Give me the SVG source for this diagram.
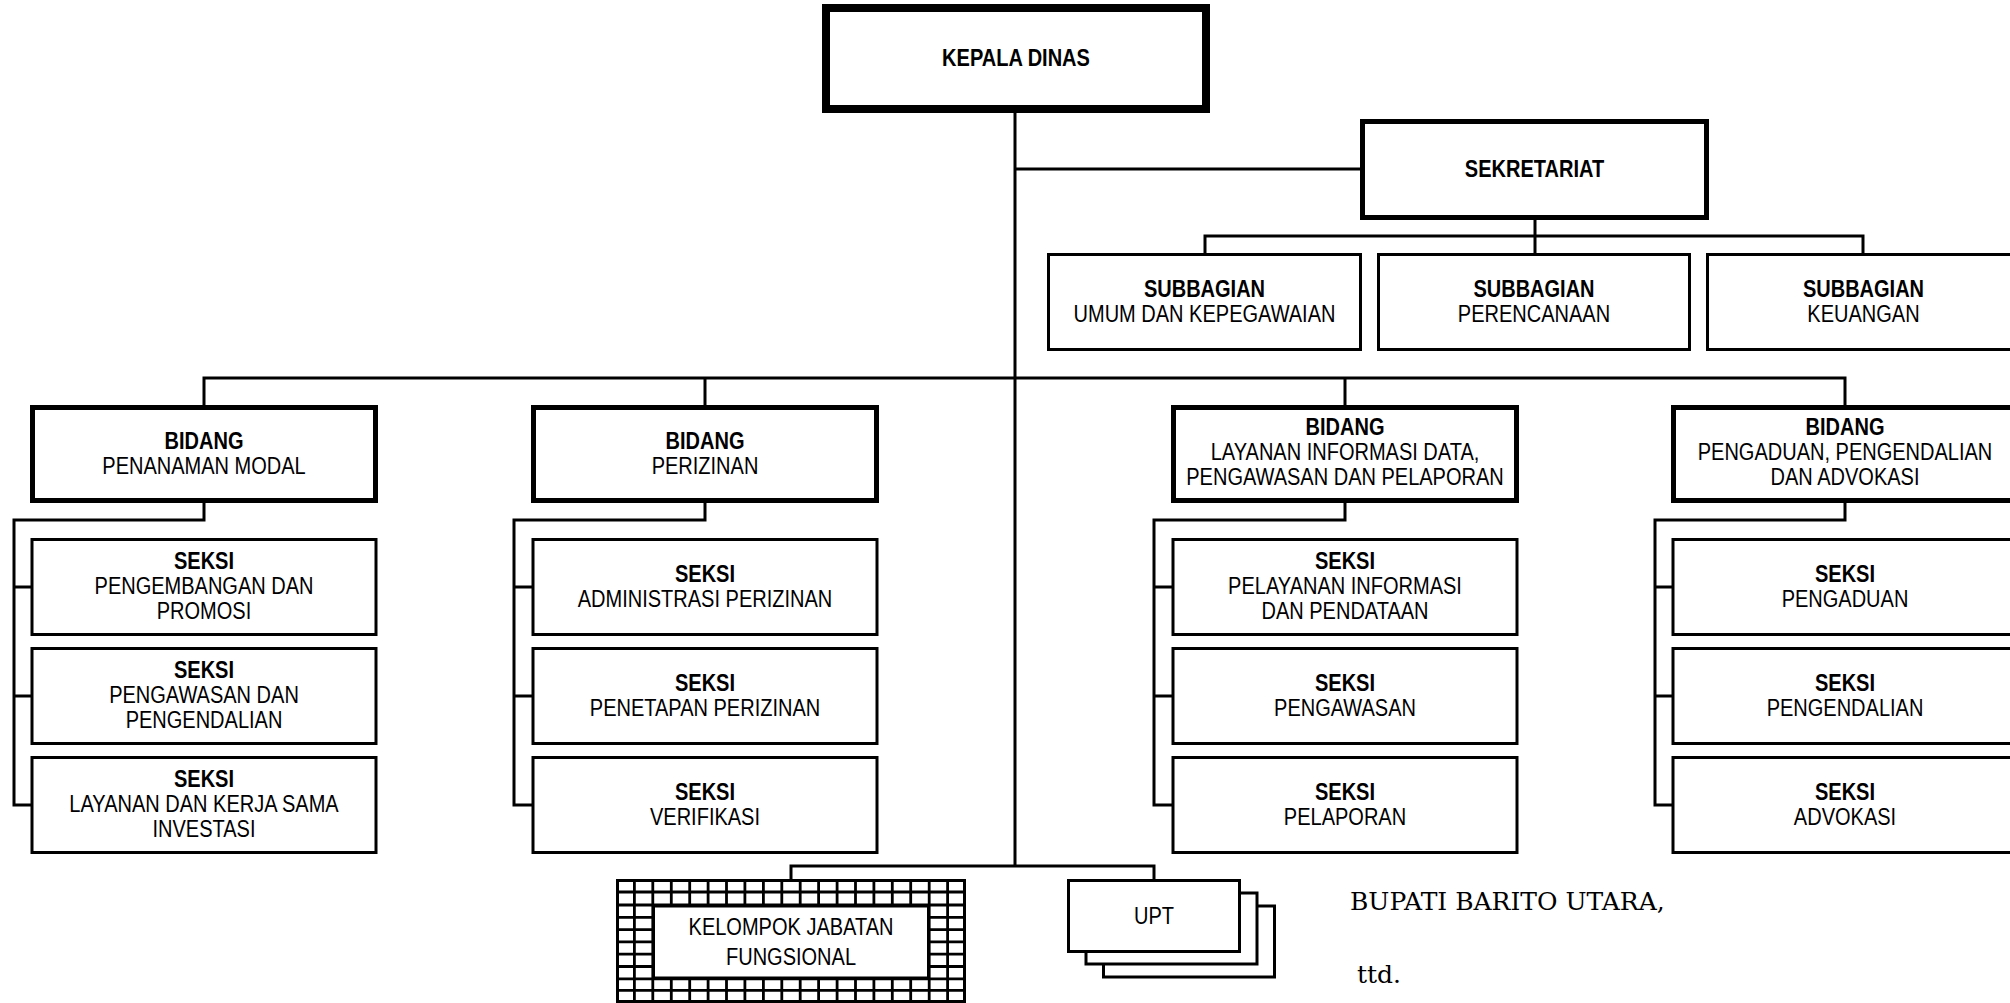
<svg xmlns="http://www.w3.org/2000/svg" width="2010" height="1003" viewBox="0 0 2010 1003">
<style>
.t{font-family:"Liberation Sans",Arial,sans-serif;font-size:23px;text-anchor:middle;fill:#000}
.b{font-weight:bold}
.box{fill:#fff;stroke:#000}
.k{stroke-width:8}
.h{stroke-width:5}
.s{stroke-width:3}
.c{fill:none;stroke:#000;stroke-width:3}
.g{fill:none;stroke:#000;stroke-width:2.8}
.sig{font-family:"DejaVu Serif","Liberation Serif",serif;font-size:25px;fill:#000}
</style>
<rect width="2010" height="1003" fill="#fff"/>
<g id="connectors">
<path class="c" d="M1015 113V866M1015 169H1360"/>
<path class="c" d="M1535 220V253M1205 253V236H1863V253"/>
<path class="c" d="M204 405V378H1845V405M705 378V405M1345 378V405"/>
<path class="c" d="M204 503V520H14V806.5M14 587H31M14 696H31M14 805H31"/>
<path class="c" d="M705 503V520H514V806.5M514 587H532M514 696H532M514 805H532"/>
<path class="c" d="M1345 503V520H1154V806.5M1154 587H1172M1154 696H1172M1154 805H1172"/>
<path class="c" d="M1845 503V520H1655V806.5M1655 587H1672M1655 696H1672M1655 805H1672"/>
<path class="c" d="M791 880V866H1154V880"/>
</g>
<g id="kepala-dinas">
<rect class="box k" x="826" y="8" width="380" height="101"/>
<text class="t b" transform="translate(1016 0) scale(.87 1)" x="0" y="66.5">KEPALA DINAS</text>
</g>
<g id="sekretariat">
<rect class="box h" x="1362.5" y="121.5" width="344" height="96"/>
<text class="t b" transform="translate(1534.5 0) scale(.87 1)" x="0" y="177">SEKRETARIAT</text>
</g>
<g id="subbagian-umum">
<rect class="box s" x="1048.5" y="254.5" width="312" height="95"/>
<text class="t" transform="translate(1204.5 0) scale(.87 1)"><tspan class="b" x="0" y="297">SUBBAGIAN</tspan><tspan x="0" y="322">UMUM DAN KEPEGAWAIAN</tspan></text>
</g>
<g id="subbagian-perencanaan">
<rect class="box s" x="1378.5" y="254.5" width="311" height="95"/>
<text class="t" transform="translate(1534 0) scale(.87 1)"><tspan class="b" x="0" y="297">SUBBAGIAN</tspan><tspan x="0" y="322">PERENCANAAN</tspan></text>
</g>
<g id="subbagian-keuangan">
<rect class="box s" x="1707.5" y="254.5" width="312" height="95"/>
<text class="t" transform="translate(1863.5 0) scale(.87 1)"><tspan class="b" x="0" y="297">SUBBAGIAN</tspan><tspan x="0" y="322">KEUANGAN</tspan></text>
</g>
<g id="bidang-penanaman-modal">
<rect class="box h" x="32.5" y="407.5" width="343" height="93"/>
<text class="t" transform="translate(204 0) scale(.87 1)"><tspan class="b" x="0" y="449">BIDANG</tspan><tspan x="0" y="474">PENANAMAN MODAL</tspan></text>
</g>
<g id="bidang-perizinan">
<rect class="box h" x="533.5" y="407.5" width="343" height="93"/>
<text class="t" transform="translate(705 0) scale(.87 1)"><tspan class="b" x="0" y="449">BIDANG</tspan><tspan x="0" y="474">PERIZINAN</tspan></text>
</g>
<g id="bidang-layanan-informasi">
<rect class="box h" x="1173.5" y="407.5" width="343" height="93"/>
<text class="t" transform="translate(1345 0) scale(.87 1)"><tspan class="b" x="0" y="435.5">BIDANG</tspan><tspan x="0" y="460.5">LAYANAN INFORMASI DATA,</tspan><tspan x="0" y="485.5">PENGAWASAN DAN PELAPORAN</tspan></text>
</g>
<g id="bidang-pengaduan">
<rect class="box h" x="1673.5" y="407.5" width="343" height="93"/>
<text class="t" transform="translate(1845 0) scale(.87 1)"><tspan class="b" x="0" y="435.5">BIDANG</tspan><tspan x="0" y="460.5">PENGADUAN, PENGENDALIAN</tspan><tspan x="0" y="485.5">DAN ADVOKASI</tspan></text>
</g>
<g id="seksi-pengembangan-promosi">
<rect class="box s" x="32" y="539.5" width="344" height="95"/>
<text class="t" transform="translate(204 0) scale(.87 1)"><tspan class="b" x="0" y="569.5">SEKSI</tspan><tspan x="0" y="594.5">PENGEMBANGAN DAN</tspan><tspan x="0" y="619">PROMOSI</tspan></text>
</g>
<g id="seksi-pengawasan-pengendalian">
<rect class="box s" x="32" y="648.5" width="344" height="95"/>
<text class="t" transform="translate(204 0) scale(.87 1)"><tspan class="b" x="0" y="678.5">SEKSI</tspan><tspan x="0" y="703.5">PENGAWASAN DAN</tspan><tspan x="0" y="728">PENGENDALIAN</tspan></text>
</g>
<g id="seksi-layanan-kerja-sama">
<rect class="box s" x="32" y="757.5" width="344" height="95"/>
<text class="t" transform="translate(204 0) scale(.87 1)"><tspan class="b" x="0" y="787.5">SEKSI</tspan><tspan x="0" y="812.5">LAYANAN DAN KERJA SAMA</tspan><tspan x="0" y="837">INVESTASI</tspan></text>
</g>
<g id="seksi-administrasi-perizinan">
<rect class="box s" x="533" y="539.5" width="344" height="95"/>
<text class="t" transform="translate(705 0) scale(.87 1)"><tspan class="b" x="0" y="582">SEKSI</tspan><tspan x="0" y="607">ADMINISTRASI PERIZINAN</tspan></text>
</g>
<g id="seksi-penetapan-perizinan">
<rect class="box s" x="533" y="648.5" width="344" height="95"/>
<text class="t" transform="translate(705 0) scale(.87 1)"><tspan class="b" x="0" y="691">SEKSI</tspan><tspan x="0" y="716">PENETAPAN PERIZINAN</tspan></text>
</g>
<g id="seksi-verifikasi">
<rect class="box s" x="533" y="757.5" width="344" height="95"/>
<text class="t" transform="translate(705 0) scale(.87 1)"><tspan class="b" x="0" y="800">SEKSI</tspan><tspan x="0" y="825">VERIFIKASI</tspan></text>
</g>
<g id="seksi-pelayanan-informasi">
<rect class="box s" x="1173" y="539.5" width="344" height="95"/>
<text class="t" transform="translate(1345 0) scale(.87 1)"><tspan class="b" x="0" y="569.5">SEKSI</tspan><tspan x="0" y="594.5">PELAYANAN INFORMASI</tspan><tspan x="0" y="619">DAN PENDATAAN</tspan></text>
</g>
<g id="seksi-pengawasan">
<rect class="box s" x="1173" y="648.5" width="344" height="95"/>
<text class="t" transform="translate(1345 0) scale(.87 1)"><tspan class="b" x="0" y="691">SEKSI</tspan><tspan x="0" y="716">PENGAWASAN</tspan></text>
</g>
<g id="seksi-pelaporan">
<rect class="box s" x="1173" y="757.5" width="344" height="95"/>
<text class="t" transform="translate(1345 0) scale(.87 1)"><tspan class="b" x="0" y="800">SEKSI</tspan><tspan x="0" y="825">PELAPORAN</tspan></text>
</g>
<g id="seksi-pengaduan">
<rect class="box s" x="1673" y="539.5" width="344" height="95"/>
<text class="t" transform="translate(1845 0) scale(.87 1)"><tspan class="b" x="0" y="582">SEKSI</tspan><tspan x="0" y="607">PENGADUAN</tspan></text>
</g>
<g id="seksi-pengendalian">
<rect class="box s" x="1673" y="648.5" width="344" height="95"/>
<text class="t" transform="translate(1845 0) scale(.87 1)"><tspan class="b" x="0" y="691">SEKSI</tspan><tspan x="0" y="716">PENGENDALIAN</tspan></text>
</g>
<g id="seksi-advokasi">
<rect class="box s" x="1673" y="757.5" width="344" height="95"/>
<text class="t" transform="translate(1845 0) scale(.87 1)"><tspan class="b" x="0" y="800">SEKSI</tspan><tspan x="0" y="825">ADVOKASI</tspan></text>
</g>
<g id="kelompok-jabatan-fungsional">
<rect class="box s" x="617.5" y="880.5" width="347" height="121"/>
<path class="g" d="M634.4 879V1002M652.8 879V1002M671.3 879V1002M689.7 879V1002M708.1 879V1002M726.5 879V1002M744.9 879V1002M763.4 879V1002M781.8 879V1002M800.2 879V1002M818.6 879V1002M837.1 879V1002M855.5 879V1002M873.9 879V1002M892.3 879V1002M910.7 879V1002M929.2 879V1002M947.6 879V1002M616 892H966M616 905H966M616 917.3H966M616 929.6H966M616 941.9H966M616 954.2H966M616 966.5H966M616 978.8H966M616 990.4H966"/>
<rect class="box s" x="653.5" y="906" width="275" height="72"/>
<text class="t" transform="translate(791 0) scale(.87 1)"><tspan x="0" y="935">KELOMPOK JABATAN</tspan><tspan x="0" y="965">FUNGSIONAL</tspan></text>
</g>
<g id="upt">
<rect class="box s" x="1103.5" y="906" width="171" height="71"/>
<rect class="box s" x="1086" y="893" width="171" height="71"/>
<rect class="box s" x="1068.5" y="880.5" width="171" height="71"/>
<text class="t" transform="translate(1154 0) scale(.87 1)" x="0" y="924">UPT</text>
</g>
<g id="signature">
<text class="sig" x="1350" y="910">BUPATI BARITO UTARA,</text>
<text class="sig" x="1357" y="983">ttd.</text>
</g>
</svg>
